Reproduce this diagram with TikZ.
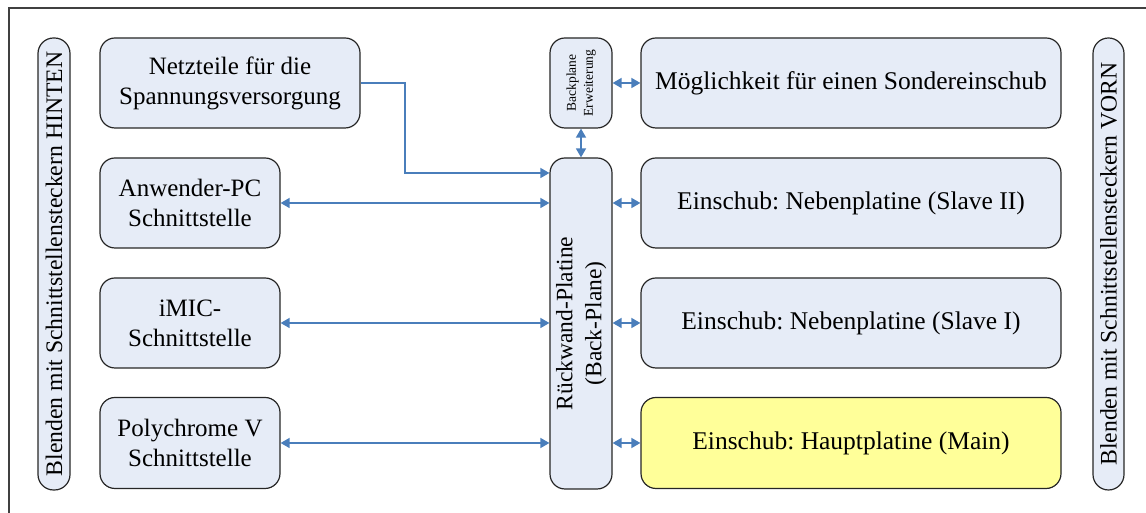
\documentclass[tikz,border=0pt]{standalone}
\usepackage{fontspec}
\setmainfont{Liberation Serif}
\usetikzlibrary{arrows.meta}
\definecolor{boxfill}{RGB}{230,236,247}
\definecolor{mainfill}{RGB}{255,255,153}
\definecolor{arrowblue}{RGB}{74,126,187}
\definecolor{frame}{RGB}{64,64,64}
\tikzset{
  blk/.style={draw=black!85, line width=1.2pt, fill=boxfill, rounded corners=15pt, align=center, inner sep=0pt, font=\fontsize{25}{30}\selectfont\frenchspacing},
  rblk/.style={blk, font=\fontsize{25.5}{30}\selectfont\frenchspacing},
  pill/.style={draw=black!85, line width=1.2pt, fill=boxfill, rounded corners=15.5pt, inner sep=0pt, font=\fontsize{23.7}{29}\selectfont},
  arr/.style={draw=arrowblue, line width=1.5pt, -{Triangle[length=9pt,width=10pt]}},
  darr/.style={draw=arrowblue, line width=1.5pt, {Triangle[length=9pt,width=10pt]}-{Triangle[length=9pt,width=10pt]}},
}
\begin{document}
\begin{tikzpicture}[x=1pt,y=1pt]
\useasboundingbox (0,0) rectangle (1146,513);
\draw[frame, line width=1.8pt] (9,0) -- (9,505) -- (1146,505);
% left pill
\node[pill, minimum width=32pt, minimum height=452pt] (lp) at (54,249) {\rotatebox{90}{Blenden mit Schnittstellensteckern HINTEN}};
% right pill
\node[pill, minimum width=31pt, minimum height=452pt] (rp) at (1108.5,249) {\rotatebox{90}{Blenden mit Schnittstellensteckern VORN}};
% left boxes
\node[blk, minimum width=260pt, minimum height=90pt] (nt) at (230,430) {Netzteile für die\\Spannungsversorgung};
\node[blk, minimum width=180pt, minimum height=90pt] (pc) at (190,310) {Anwender-PC\\Schnittstelle};
\node[blk, minimum width=180pt, minimum height=90pt] (im) at (190,190) {iMIC-\\Schnittstelle};
\node[blk, minimum width=180pt, minimum height=91pt] (pv) at (190,70) {Polychrome V\\Schnittstelle};
% middle
\node[blk, minimum width=62pt, minimum height=90pt, font=\fontsize{13.5}{17}\selectfont] (be) at (581,430) {\rotatebox{90}{\begin{tabular}{@{}c@{}}Backplane\\Erweiterung\end{tabular}}};
\node[blk, font=\fontsize{23.5}{29}\selectfont, minimum width=62pt, minimum height=331pt] (rw) at (581,189.5) {\rotatebox{90}{\begin{tabular}{@{}c@{}}Rückwand-Platine\\(Back-Plane)\end{tabular}}};
% right boxes
\node[rblk, minimum width=420pt, minimum height=90pt] (so) at (851,430) {Möglichkeit für einen Sondereinschub};
\node[rblk, minimum width=420pt, minimum height=90pt] (s2) at (851,310) {Einschub: Nebenplatine (Slave II)};
\node[rblk, minimum width=420pt, minimum height=90pt] (s1) at (851,190) {Einschub: Nebenplatine (Slave I)};
\node[rblk, fill=mainfill, minimum width=420pt, minimum height=91pt] (mn) at (851,70) {Einschub: Hauptplatine (Main)};
% connectors
\coordinate (k1) at (405,430);
\coordinate (k2) at (405,340);
\draw[arr] (nt.east) -- (k1) -- (k2) -- (k2 -| rw.west);
\draw[darr] (pc.east) -- (pc.east -| rw.west);
\draw[darr] (im.east) -- (im.east -| rw.west);
\draw[darr] (pv.east) -- (pv.east -| rw.west);
\draw[darr] (be.south) -- (rw.north);
\draw[darr] (be.east) -- (so.west);
\draw[darr] (s2.west -| rw.east) -- (s2.west);
\draw[darr] (s1.west -| rw.east) -- (s1.west);
\draw[darr] (mn.west -| rw.east) -- (mn.west);
\end{tikzpicture}
\end{document}
